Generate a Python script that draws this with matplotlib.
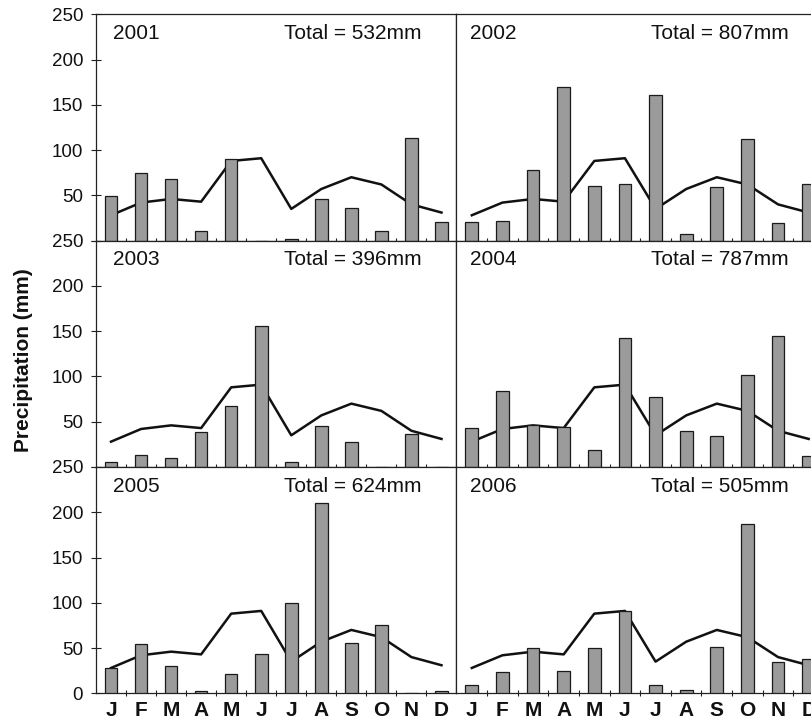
import matplotlib
matplotlib.use("Agg")
import matplotlib.pyplot as plt
import numpy as np

plt.rcParams['font.family'] = ['Liberation Sans', 'DejaVu Sans']

months = ["J", "F", "M", "A", "M", "J", "J", "A", "S", "O", "N", "D"]

# long-term monthly mean (same line in every panel)
mean_precip = [28, 42, 46, 43, 88, 91, 35, 57, 70, 62, 40, 31]

years = ["2001", "2002", "2003", "2004", "2005", "2006"]
totals = [532, 807, 396, 787, 624, 505]

p2001 = [49, 75, 68, 11, 90, 0, 2, 46, 36, 11, 113, 20]
p2002 = [20, 22, 78, 170, 60, 62, 161, 7, 59, 112, 19, 62]
p2003 = [5, 13, 10, 39, 67, 156, 5, 45, 28, 0, 36, 0]
p2004 = [43, 84, 46, 44, 19, 142, 77, 40, 34, 102, 145, 12]
p2005 = [28, 54, 30, 3, 21, 43, 100, 210, 56, 75, 0, 2]
p2006 = [9, 24, 50, 25, 50, 91, 9, 4, 51, 187, 35, 38]
yearly = [p2001, p2002, p2003, p2004, p2005, p2006]

W, H = 812, 722
fig = plt.figure(figsize=(W / 100, H / 100), dpi=100)

col_x = [(96, 360.5), (456.5, 367.5)]      # left px, width px
row_top = [14.3, 240.7, 467.0]
row_h = 226.3

x = np.arange(1, 13)
for i, (yr, vals, tot) in enumerate(zip(years, yearly, totals)):
    r, c = divmod(i, 2)
    left, width = col_x[c]
    bottom = H - (row_top[r] + row_h)
    ax = fig.add_axes([left / W, bottom / H, width / W, row_h / H])

    ax.plot(x, mean_precip, color='#111111', lw=1.8, zorder=2)
    ax.bar(x, vals, width=0.42, color='#9b9b9b', edgecolor='#1a1a1a',
           linewidth=0.9, zorder=3)

    ax.set_xlim(0.5, 12.5)
    ax.set_ylim(0, 250)

    # month-boundary ticks, labels at month centres
    ax.set_xticks(np.arange(1.5, 12.5, 1))
    ax.set_xticklabels([])
    ax.tick_params(axis='x', which='major', direction='inout', length=4.3,
                   width=0.8, color='#222222')
    ax.set_xticks(x, minor=True)
    if r == 2:
        ax.set_xticklabels(months, minor=True, fontsize=15, fontweight='bold',
                           color='#111111')
    ax.tick_params(axis='x', which='minor', length=0, pad=5.5)

    ax.set_yticks(np.arange(0, 251, 50))
    if c == 0:
        labels = [str(v) for v in range(0, 251, 50)]
        if r < 2:
            labels[0] = ''
        ax.set_yticklabels(labels, fontsize=13.5, color='#111111')
        ax.tick_params(axis='y', direction='inout', length=6.5, width=0.8,
                       pad=6, color='#222222')
    else:
        ax.tick_params(axis='y', left=False, labelleft=False)

    for s in ax.spines.values():
        s.set_linewidth(0.9)
        s.set_color('#222222')

    tx = 0.047 if c == 0 else 0.037
    ax.text(tx, 0.915, yr, transform=ax.transAxes, fontsize=15,
            ha='left', va='center', color='#111111')
    ax.text(0.903, 0.915, f"Total = {tot}mm", transform=ax.transAxes,
            fontsize=15, ha='right', va='center', color='#111111')

fig.text(24 / W, 1 - 360 / H, "Precipitation (mm)", rotation=90,
         fontsize=15, fontweight='bold', ha='center', va='center',
         color='#111111')

fig.savefig("out.png", dpi=100)
